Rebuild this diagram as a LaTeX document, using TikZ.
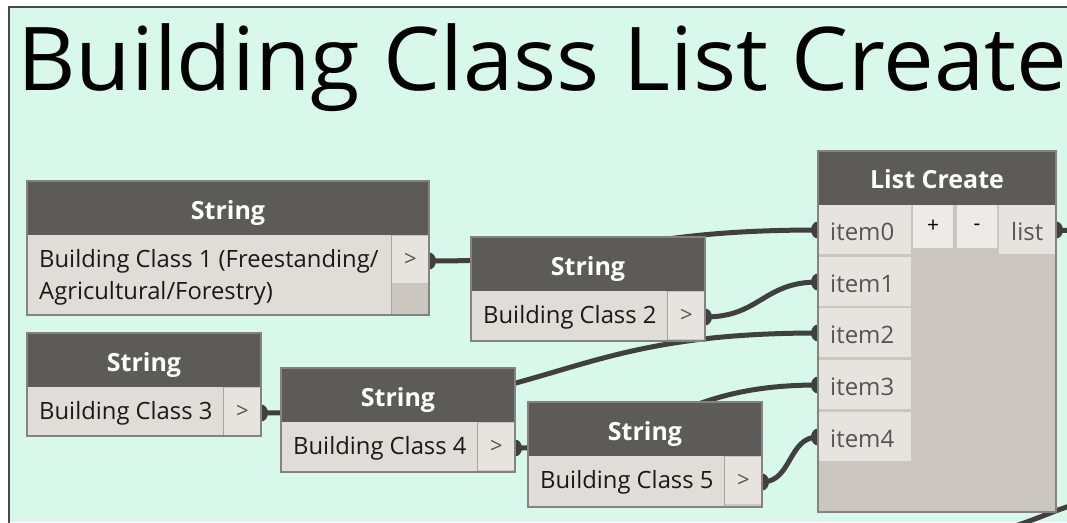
\documentclass[tikz,border=0pt]{standalone}
\usepackage{fontspec}
\setmainfont{Open Sans}
\definecolor{mint}{HTML}{D8F8EB}
\definecolor{framec}{HTML}{4A4A4A}
\definecolor{hdrc}{HTML}{5D5B59}
\definecolor{bodyc}{HTML}{CBC6C0}
\definecolor{fieldc}{HTML}{E0DDD8}
\definecolor{portc}{HTML}{E7E4E0}
\definecolor{btnc}{HTML}{EDEBE8}
\definecolor{edgec}{HTML}{85827F}
\definecolor{sepc}{HTML}{A8A5A1}
\definecolor{wirec}{HTML}{404040}
\definecolor{itemtxt}{HTML}{555555}
\pgfdeclarelayer{back}
\pgfdeclarelayer{wires}
\pgfsetlayers{back,wires,main}
\tikzset{
  nodebox/.style={draw=edgec, line width=1.2pt, fill=bodyc, inner sep=0pt, outer sep=0pt, anchor=north west},
  hdrtext/.style={text=white, font=\fontsize{25}{30}\selectfont\bfseries, inner sep=0pt, anchor=base},
  fieldtext/.style={text=black!90, font=\fontsize{23.8}{28}\selectfont, inner sep=0pt, anchor=base west},
  porttext/.style={text=itemtxt, font=\fontsize{22}{26}\selectfont, inner sep=0pt},
  itemtext/.style={text=itemtxt, font=\fontsize{24}{28}\selectfont, inner sep=0pt, anchor=base west},
  btntext/.style={text=black, font=\fontsize{21}{24}\selectfont, inner sep=0pt},
  wire/.style={draw=wirec, line width=5pt},
  portdot/.style={fill=wirec},
}
% #1 name, #2 x1, #3 y1, #4 x2, #5 y2, #6 text
\newcommand\dynstr[6]{%
  \node[nodebox, minimum width={#4-#2}, minimum height={#5-#3}] (#1) at (#2,#3) {};
  \fill[hdrc] (#2,#3) rectangle (#4,{#3+54});
  \fill[fieldc] ({#2+1},{#3+54}) rectangle ({#4-38},{#5-1});
  \fill[portc] ({#4-37},{#3+55}) rectangle ({#4-1},{#3+102});
  \draw[sepc, line width=1pt] ({#4-37.5},{#3+54}) -- ({#4-37.5},{#5-1});
  \draw[edgec, line width=1.2pt] (#1.north west) rectangle (#1.south east);
  \node[hdrtext] (#1h) at ({(#2+#4)/2},{#3+38}) {String};
  \node[fieldtext] (#1t) at ({#2+12},{#3+86}) {#6};
  \node[porttext] (#1p) at ({#4-18.5},{#3+79}) {>};
  \coordinate (#1o) at (#4,{#3+80});
  \begin{pgfonlayer}{wires}
    \fill[portdot] (#1o) ellipse (7 and 8.5);
  \end{pgfonlayer}
}
\begin{document}
\begin{tikzpicture}[x=1pt,y=-1pt]
\useasboundingbox (0,0) rectangle (1067,522);
\begin{pgfonlayer}{back}
  \fill[white] (0,0) rectangle (1067,522);
  \fill[mint] (9,7) rectangle (1067,522);
  \draw[framec, line width=2pt] (9,530) -- (9,7) -- (1075,7);
\end{pgfonlayer}

% title
\node[anchor=base west, inner sep=0pt, font=\fontsize{88}{100}\selectfont] (title) at (17,90) {\scalebox{1.027}[1]{Building Class List Create}};

% String nodes
\dynstr{s1}{27}{181}{429}{315}{Building Class 1 (Freestanding/}
\node[fieldtext] (s1t2) at (39,299) {Agricultural/Forestry)};
\dynstr{s2}{471}{237}{705}{341}{Building Class 2}
\dynstr{s3}{27}{333}{261}{436}{Building Class 3}
\dynstr{s4}{281}{368}{515}{472}{Building Class 4}
\dynstr{s5}{528}{402}{762}{507}{Building Class 5}

% List Create node
\node[nodebox, minimum width=238, minimum height=361] (lc) at (818,151) {};
\fill[hdrc] (818,151) rectangle (1056,205);
\node[hdrtext] (lch) at (937,188) {List Create};
\foreach \i/\yt in {0/205,1/257,2/308,3/360,4/412}{
  \fill[portc] (819,\yt) rectangle (911,{\yt+49});
  \node[itemtext] (lci\i t) at (830,{\yt+35}) {item\i};
  \coordinate (lci\i) at (818,{\yt+25});
  \begin{pgfonlayer}{wires}
    \fill[portdot] (lci\i) ellipse (7 and 8.5);
  \end{pgfonlayer}
}
\fill[btnc] (913,205) rectangle (953,248);
\node[btntext] (plus) at (933,226) {+};
\fill[btnc] (957,205) rectangle (997,248);
\node[btntext] (minus) at (977,227) {-};
\fill[portc] (999,205) rectangle (1055,254);
\node[itemtext] (listt) at (1011,240) {list};
\coordinate (lco) at (1056,230);
\draw[edgec, line width=1.2pt] (lc.north west) rectangle (lc.south east);
\coordinate (lcoff) at (1080,231);
\coordinate (brA) at (1015,526);
\coordinate (brB) at (1080,503);

% wires
\begin{pgfonlayer}{wires}
  \fill[portdot] (lco) ellipse (7 and 8.5);
  \draw[wire] (s1o) .. controls +(190,0) and +(-190,0) .. (lci0);
  \draw[wire] (s2o) .. controls +(55,0) and +(-55,0) .. (lci1);
  \draw[wire] (s3o) .. controls +(300,0) and +(-270,0) .. (lci2);
  \draw[wire] (s4o) .. controls +(150,0) and +(-150,0) .. (lci3);
  \draw[wire] (s5o) .. controls +(30,0) and +(-30,0) .. (lci4);
  \draw[wire] (lco) -- (lcoff);
  \draw[wire] (brA) .. controls +(25,-8) and +(-20,5) .. (brB);
\end{pgfonlayer}
\end{tikzpicture}
\end{document}
